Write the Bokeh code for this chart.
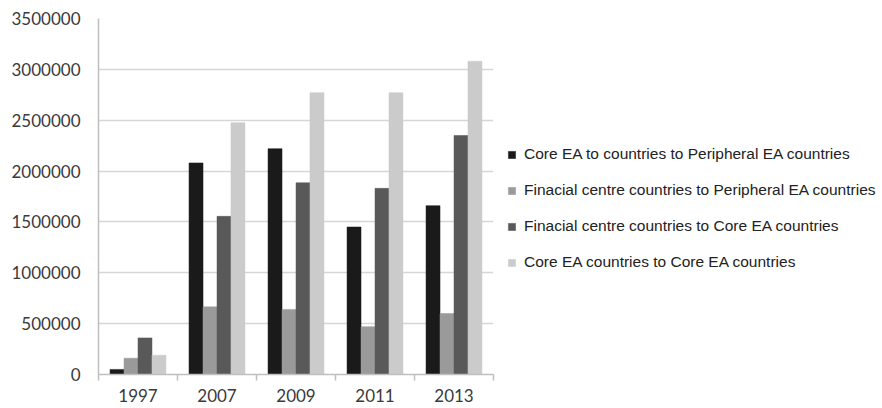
from bokeh.plotting import figure
from bokeh.models import (ColumnDataSource, Range1d, FixedTicker, NumeralTickFormatter,
                          Legend, LegendItem)
from bokeh.transform import dodge
from bokeh.embed import file_html
from bokeh.resources import INLINE
import numpy as np

# Data
years = ["1997", "2007", "2009", "2011", "2013"]
core_to_peripheral = [50000, 2080000, 2220000, 1450000, 1660000]
fin_to_peripheral = [160000, 665000, 640000, 470000, 600000]
fin_to_core = [360000, 1555000, 1885000, 1830000, 2350000]
core_to_core = [190000, 2475000, 2770000, 2770000, 3080000]

series_names = [
    "Core EA to countries to Peripheral EA countries",
    "Finacial centre countries to Peripheral EA countries",
    "Finacial centre countries to Core EA countries",
    "Core EA countries to Core EA countries",
]
series_keys = ["cp", "fp", "fc", "cc"]
series_colors = ["#1a1a1a", "#9a9a9a", "#595959", "#cbcbcb"]

centers = np.arange(len(years)) + 0.5
source = ColumnDataSource(dict(
    x=centers,
    cp=core_to_peripheral,
    fp=fin_to_peripheral,
    fc=fin_to_core,
    cc=core_to_core,
))

p = figure(
    frame_width=395, frame_height=356,
    x_range=Range1d(0, len(years)), y_range=Range1d(0, 3500000),
    output_backend="svg", toolbar_location=None,
    min_border_left=98, min_border_right=0, min_border_top=18, min_border_bottom=34,
)
p.outline_line_color = None
p.background_fill_color = "white"
p.border_fill_color = "white"

bar_w = 0.177
offsets = [-1.5 * bar_w, -0.5 * bar_w, 0.5 * bar_w, 1.5 * bar_w]
renderers = []
for key, color, off in zip(series_keys, series_colors, offsets):
    r = p.vbar(x=dodge("x", off), top=key, width=bar_w, source=source,
               fill_color=color, line_color=color, line_width=0.5)
    renderers.append(r)

# Y axis
p.yaxis.ticker = FixedTicker(ticks=list(range(0, 3500001, 500000)))
p.yaxis.formatter = NumeralTickFormatter(format="0")
p.yaxis.axis_line_color = "#bfbfbf"
p.yaxis.axis_line_width = 1.5
p.yaxis.major_tick_line_color = None
p.yaxis.minor_tick_line_color = None
p.yaxis.major_label_text_font = "Lato"
p.yaxis.major_label_text_font_size = "17px"
p.yaxis.major_label_text_color = "#3a3a3a"
p.yaxis.major_label_standoff = 12

# X axis: labels at category centres, tick marks at category boundaries
p.xaxis.ticker = FixedTicker(ticks=list(centers),
                             minor_ticks=list(range(len(years) + 1)))
p.xaxis.major_label_overrides = {float(c): y for c, y in zip(centers, years)}
p.xaxis.major_tick_line_color = None
p.xaxis.minor_tick_line_color = "#bfbfbf"
p.xaxis.minor_tick_line_width = 1.5
p.xaxis.minor_tick_out = 6
p.xaxis.minor_tick_in = 0
p.xaxis.axis_line_color = "#bfbfbf"
p.xaxis.axis_line_width = 1.5
p.xaxis.major_label_text_font = "Lato"
p.xaxis.major_label_text_font_size = "17px"
p.xaxis.major_label_text_color = "#3a3a3a"
p.xaxis.major_label_standoff = 8

p.xgrid.grid_line_color = None
p.ygrid.grid_line_color = "#d6d6d6"
p.ygrid.grid_line_width = 1.5

legend = Legend(
    items=[LegendItem(label=n, renderers=[r]) for n, r in zip(series_names, renderers)],
    location=(14, 102),
    label_text_font="Liberation Sans",
    label_text_font_size="15.5px",
    label_text_color="#222222",
    glyph_width=9, glyph_height=9,
    label_standoff=8,
    spacing=16,
    label_height=20,
    padding=0, margin=0,
    border_line_color=None,
    background_fill_alpha=0,
)
p.add_layout(legend, "right")

open("out.html", "w").write(file_html(p, INLINE))
